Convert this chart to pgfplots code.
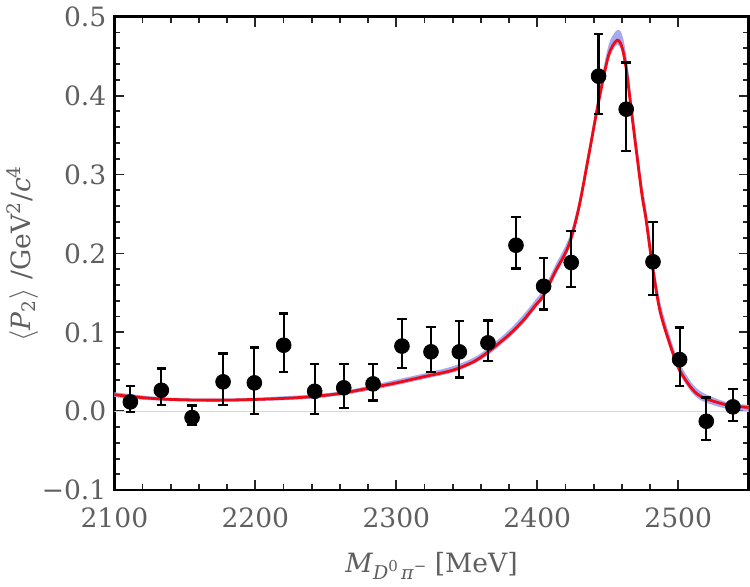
\documentclass[border=0pt]{standalone}
\usepackage{fontspec}
\setmainfont{DejaVu Serif}
\usepackage{pgfplots}
\pgfplotsset{compat=1.18}
\usepackage{pgfplotstable}
\usepgfplotslibrary{fillbetween}
\definecolor{fitred}{RGB}{240,10,20}
\definecolor{bandblue}{RGB}{165,170,240}
\definecolor{lblgray}{RGB}{95,95,95}
\definecolor{zerogray}{RGB}{215,215,215}

\pgfplotstableread{
m v ep em
2111.3 0.0119 0.0198 0.0127
2133.3 0.0266 0.0275 0.0190
2155.1 -0.0080 0.0152 0.0090
2177.1 0.0373 0.0358 0.0297
2199.3 0.0360 0.0447 0.0393
2220.1 0.0837 0.0401 0.0338
2242.1 0.0253 0.0343 0.0286
2262.7 0.0297 0.0299 0.0254
2283.5 0.0347 0.0251 0.0211
2304.0 0.0826 0.0340 0.0281
2324.6 0.0753 0.0317 0.0254
2344.7 0.0753 0.0388 0.0326
2365.0 0.0867 0.0283 0.0233
2384.9 0.2104 0.0360 0.0295
2404.5 0.1584 0.0360 0.0295
2424.1 0.1885 0.0401 0.0313
2443.5 0.4246 0.0537 0.0482
2463.1 0.3828 0.0592 0.0533
2482.1 0.1894 0.0506 0.0424
2501.0 0.0655 0.0406 0.0333
2519.9 -0.0127 0.0301 0.0241
2538.8 0.0056 0.0223 0.0178
}\datatable

\pgfplotstableread{
m red lo hi
2100 0.021 0.018 0.024
2110 0.019 0.016 0.022
2125 0.0165 0.014 0.019
2140 0.015 0.013 0.017
2160 0.0142 0.012 0.016
2180 0.0142 0.012 0.016
2200 0.0150 0.013 0.017
2220 0.0163 0.014 0.019
2240 0.0185 0.016 0.021
2260 0.0225 0.020 0.025
2280 0.029 0.026 0.032
2300 0.036 0.033 0.040
2320 0.044 0.041 0.048
2340 0.052 0.049 0.057
2355 0.063 0.060 0.068
2365 0.075 0.071 0.080
2380 0.097 0.093 0.103
2390 0.115 0.111 0.122
2398.6 0.134 0.130 0.141
2404.5 0.147 0.143 0.155
2412.8 0.177 0.172 0.185
2422.3 0.210 0.205 0.219
2429.4 0.257 0.251 0.266
2436.5 0.324 0.318 0.334
2443.5 0.392 0.386 0.403
2450.6 0.451 0.445 0.464
2456.5 0.470 0.464 0.483
2460 0.462 0.456 0.478
2463.1 0.434 0.428 0.452
2466 0.392 0.385 0.410
2469.5 0.341 0.334 0.358
2474.3 0.274 0.267 0.290
2477 0.245 0.238 0.261
2482 0.180 0.174 0.195
2487.2 0.126 0.121 0.139
2495 0.080 0.075 0.090
2501 0.052 0.047 0.061
2510 0.028 0.023 0.035
2517 0.018 0.013 0.024
2530 0.010 0.005 0.014
2539 0.0068 0.002 0.010
2550 0.0047 0.000 0.008
}\curvetable

\begin{document}
\begin{tikzpicture}
\begin{axis}[
  scale only axis,
  width=317.5pt, height=237pt,
  xmin=2100, xmax=2550,
  ymin=-0.1, ymax=0.5,
  xtick={2100,2200,2300,2400,2500},
  xticklabels={2100,2200,2300,2400,2500},
  ytick={-0.1,0,0.1,0.2,0.3,0.4,0.5},
  yticklabels={−0.1,0.0,0.1,0.2,0.3,0.4,0.5},
  minor x tick num=4,
  minor y tick num=4,
  tick align=inside,
  major tick length=5pt,
  minor tick length=3pt,
  every tick/.style={black!85, line width=0.9pt},
  axis line style={black, line width=1.3pt},
  yticklabel style={xshift=-0.5pt},
  xticklabel style={yshift=-5.5pt},
  tick label style={font=\fontsize{13.3}{16}\selectfont, text=lblgray},
  label style={font=\fontsize{13.3}{16}\selectfont, text=lblgray},
  xlabel={\textit{M}\raisebox{-0.55ex}{\fontsize{9.5}{10}\selectfont\textit{D}\raisebox{0.8ex}{\fontsize{7.5}{8}\selectfont 0}\,\textit{π}\raisebox{0.8ex}{\fontsize{7.5}{8}\selectfont −}} [MeV]},
  ylabel={$\langle$\textit{P}\textsubscript{2}$\rangle$ /GeV\textsuperscript{2}/\textit{c}\textsuperscript{4}},
  xlabel style={yshift=-5pt},
  ylabel style={yshift=-5pt},
  clip=true,
]
\addplot[zerogray, line width=0.6pt, forget plot] coordinates {(2100,0) (2550,0)};
\addplot[name path=up, draw=none, smooth, forget plot] table[x=m, y=hi] {\curvetable};
\addplot[name path=lo, draw=none, smooth, forget plot] table[x=m, y=lo] {\curvetable};
\addplot[bandblue, draw=none, forget plot] fill between[of=up and lo];
\addplot[fitred, line width=1.4pt, smooth] table[x=m, y=red] {\curvetable};
\addplot[only marks, mark=*, mark size=3.7pt, black,
  error bars/.cd, y dir=both, y explicit,
  error bar style={line width=1.1pt, black},
  error mark options={rotate=90, mark size=2.4pt, line width=1.1pt, black}]
  table[x=m, y=v, y error plus=ep, y error minus=em] {\datatable};
\end{axis}
\end{tikzpicture}
\end{document}
